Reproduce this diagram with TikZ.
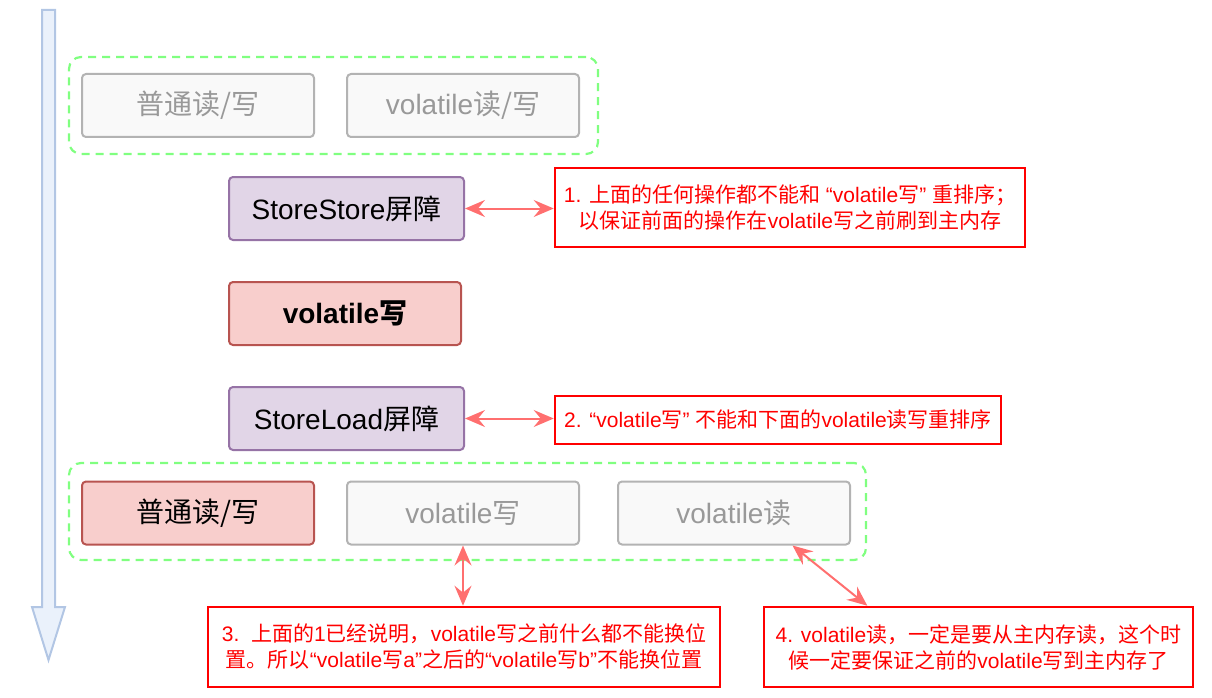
\documentclass[tikz,border=0pt]{standalone}
\usepackage{fontspec}
\setmainfont{Liberation Sans}
\newfontfamily\cjk{Noto Sans CJK SC}
\usetikzlibrary{arrows.meta,calc}
\newcommand\zh[1]{{\cjk #1}}
\definecolor{gfill}{HTML}{F9F9F9}
\definecolor{gstroke}{HTML}{B3B3B3}
\definecolor{gtext}{HTML}{999999}
\definecolor{pfill}{HTML}{E1D5E7}
\definecolor{pstroke}{HTML}{9673A6}
\definecolor{rfill}{HTML}{F8CECC}
\definecolor{rstroke}{HTML}{B85450}
\definecolor{grn}{HTML}{80FF80}
\definecolor{conncol}{HTML}{FF6F6F}
\definecolor{afill}{HTML}{EAF1FB}
\definecolor{astroke}{HTML}{B2C6E4}
\tikzset{
  basebox/.style={rectangle, rounded corners=4pt, line width=2pt, minimum width=232pt, minimum height=63pt, inner sep=0pt, font=\fontsize{28}{34}\selectfont},
  greybox/.style={basebox, fill=gfill, draw=gstroke, text=gtext},
  purplebox/.style={basebox, fill=pfill, draw=pstroke, text=black, minimum width=235pt},
  redbox/.style={basebox, fill=rfill, draw=rstroke, text=black},
  notebox/.style={rectangle, draw=red, line width=2.6pt, fill=white, text=red, inner sep=0pt, align=center, font=\fontsize{21}{26}\selectfont},
  groupbox/.style={rectangle, draw=grn, dash pattern=on 8pt off 6pt, line width=2.2pt, rounded corners=12pt, inner sep=0pt},
  conn/.style={draw=conncol, line width=2pt, {Stealth[length=20pt,width=17pt,inset=7pt]}-{Stealth[length=20pt,width=17pt,inset=7pt]}},
}
\begin{document}
\begin{tikzpicture}[x=1pt,y=-1pt]
\useasboundingbox (0,0) rectangle (1212,698);
% timeline arrow
\draw[fill=afill, draw=astroke, line width=2pt, line join=miter]
  (42,10) -- (55,10) -- (55,607) -- (65,607) -- (48.5,660) -- (32,607) -- (42,607) -- cycle;
% groups
\node[groupbox, minimum width=529pt, minimum height=97pt] (g1) at (333.5,105.5) {};
\node[groupbox, minimum width=797pt, minimum height=97pt] (g2) at (467.5,511.5) {};
% top boxes
\node[greybox] (a1) at (198,105.5) {\zh{普通读/写}};
\node[greybox] (a2) at (463,105.5) {volatile\zh{读/写}};
% barriers and write
\node[purplebox] (ss) at (346.5,208.5) {StoreStore\zh{屏障}};
\node[redbox] (vw) at (345,313.5) {\bfseries volatile\zh{写}};
\node[purplebox] (sl) at (346.5,418.5) {StoreLoad\zh{屏障}};
% bottom boxes
\node[redbox] (b1) at (198,513) {\zh{普通读/写}};
\node[greybox] (b2) at (463,513) {volatile\zh{写}};
\node[greybox] (b3) at (734,513) {volatile\zh{读}};
% notes
\node[notebox, minimum width=470pt, minimum height=79pt] (n1) at (790,207.5)
  {1. \zh{上面的任何操作都不能和} “volatile\zh{写}” \zh{重排序；}\\ \zh{以保证前面的操作在}volatile\zh{写之前刷到主内存}};
\node[notebox, minimum width=446pt, minimum height=48pt] (n2) at (778,420)
  {2. “volatile\zh{写}” \zh{不能和下面的}volatile\zh{读写重排序}};
\node[notebox, minimum width=512pt, minimum height=80pt] (n3) at (464,647)
  {3.\ \ \zh{上面的}1\zh{已经说明，}volatile\zh{写之前什么都不能换位}\\ \zh{置。所以}“volatile\zh{写}a”\zh{之后的}“volatile\zh{写}b”\zh{不能换位置}};
\node[notebox, minimum width=429pt, minimum height=80pt] (n4) at (978.5,647)
  {4. volatile\zh{读，一定是要从主内存读，这个时}\\ \zh{候一定要保证之前的}volatile\zh{写到主内存了}};
% connectors
\draw[conn] (ss.east) -- (ss.east -| n1.west);
\draw[conn] (sl.east) -- (sl.east -| n2.west);
\draw[conn] (b2.south) -- (b2.south |- n3.north);
\draw[conn] ($(b3.south west)!0.75!(b3.south east)$) -- ($(n4.north west)!0.2424!(n4.north east)$);
\end{tikzpicture}
\end{document}
